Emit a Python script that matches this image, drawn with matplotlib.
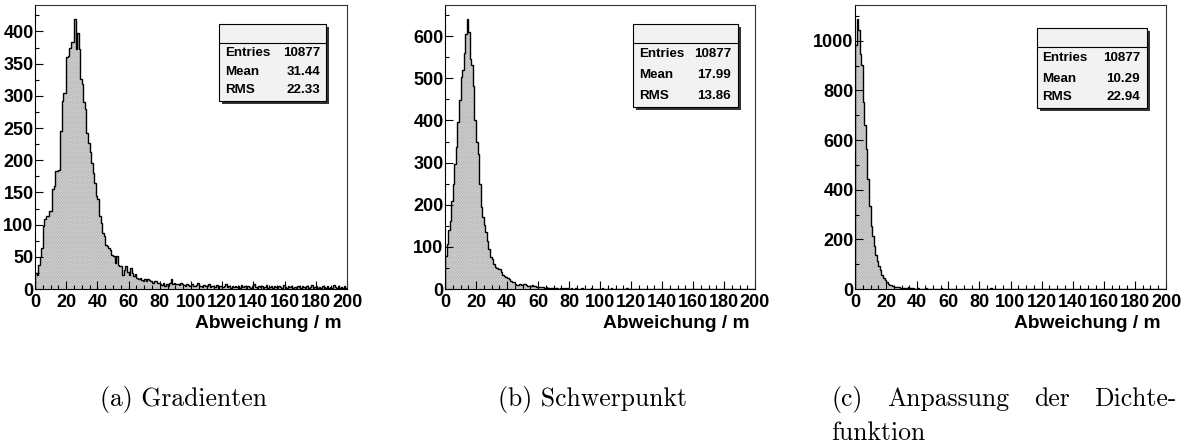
import matplotlib
matplotlib.use("Agg")
import matplotlib.pyplot as plt
from matplotlib.patches import Rectangle
import numpy as np

# ---------------- data ----------------
bin_edges = list(range(0, 201))

counts_gradienten = [25,22,38,50,64,98,108,113,113,121,
      121,155,160,183,183,185,245,292,305,305,
      360,362,375,383,383,420,372,398,372,326,
      318,290,279,243,227,212,195,180,165,144,
      139,113,103,87,82,68,66,64,61,53,
      52,40,52,38,35,35,22,30,35,27,
      22,33,25,20,24,17,15,17,14,13,
      16,12,15,14,12,10,13,12,9,10,
      8,6,9,5,7,4,10,15,8,9,
      7,8,6,9,7,6,5,8,6,5,
      7,4,5,6,9,4,5,3,6,4,
      5,7,3,4,5,3,6,2,4,5,
      3,4,8,3,5,2,4,3,5,3,
      4,2,6,3,4,2,5,3,2,4,
      7,3,2,4,3,5,2,3,6,2,
      3,4,2,5,3,2,4,3,2,6,
      3,2,4,3,5,2,3,2,4,3,
      2,5,3,2,4,2,3,6,2,3,
      4,2,3,2,5,3,2,4,2,3,
      2,6,3,2,4,2,3,2,5,2]

counts_schwerpunkt = [79,107,139,162,210,250,297,337,396,448,
      503,520,560,606,642,610,545,531,483,400,
      349,321,250,194,170,151,135,115,95,75,
      71,59,53,51,48,48,40,34,31,28,
      26,24,20,17,16,12,10,10,12,10,
      13,12,10,8,8,7,9,6,6,5,
      5,4,5,4,3,4,3,3,2,3,
      2,2,3,1,2,2,1,3,1,2,
      1,2,1,1,2,1,1,0,2,1,
      1,1,0,1,2,1,0,1,1,0,
      1,3,1,0,1,1,0,2,1,0,
      1,0,1,1,0,1,0,2,0,1,
      0,1,1,0,1,0,0,1,0,1,
      1,0,0,1,0,1,0,0,1,0,
      0,1,0,0,1,0,1,0,0,1,
      0,0,1,0,0,1,0,0,0,1,
      0,1,0,0,0,1,0,0,1,0,
      0,0,1,0,0,0,1,0,0,0,
      1,0,0,0,0,1,0,0,0,1,
      0,0,0,1,0,0,0,0,1,0]

counts_dichte = [982,1090,1043,949,901,753,659,564,443,335,
      254,213,173,139,112,92,76,58,45,38,
      27,22,18,15,13,10,9,8,7,6,
      5,4,6,4,8,4,3,3,2,2,
      3,2,2,1,2,3,1,2,2,1,
      2,1,2,2,1,3,2,1,2,1,
      2,2,1,1,2,1,2,1,1,2,
      1,2,1,2,1,1,2,1,2,1,
      1,2,1,1,2,1,1,3,1,1,
      2,1,1,2,1,1,2,1,1,1,
      2,1,1,2,1,1,1,2,1,1,
      1,2,1,1,1,2,1,1,2,1,
      1,1,2,1,1,1,2,1,1,1,
      2,1,1,1,2,1,1,2,1,1,
      1,2,1,1,1,1,2,1,1,2,
      1,1,1,2,1,1,1,1,2,1,
      1,2,1,1,1,1,2,1,1,1,
      2,1,1,1,1,2,1,1,1,1,
      2,1,1,1,2,1,1,1,1,2,
      1,1,1,2,1,1,1,1,1,2]

stat_labels = ["Entries", "Mean", "RMS"]
stats_gradienten = ["10877", "31.44", "22.33"]
stats_schwerpunkt = ["10877", "17.99", "13.86"]
stats_dichte = ["10877", "10.29", "22.94"]

x_label = "Abweichung / m"
x_ticks = [0, 20, 40, 60, 80, 100, 120, 140, 160, 180, 200]
captions = ["(a) Gradienten", "(b) Schwerpunkt"]
caption_c_words = ["(c)", "Anpassung", "der", "Dichte-"]
caption_c_line2 = "funktion"

# ---------------- layout ----------------
W, H = 1185, 448
fig = plt.figure(figsize=(W / 100, H / 100), dpi=100)
fig.patch.set_facecolor("white")

def fx(px):
    return px / W

def fy(py):
    return 1 - py / H

bold_font = ["Liberation Sans", "DejaVu Sans"]

panels = [
    dict(counts=counts_gradienten, stats=stats_gradienten, left=35, right=347,
         ymaj=50, ymin=25, box=(219, 24, 326, 101, 43), tl=225, tr=320, rows=(53, 72, 90)),
    dict(counts=counts_schwerpunkt, stats=stats_schwerpunkt, left=445, right=755,
         ymaj=100, ymin=50, box=(633, 24, 738, 107, 43), tl=639, tr=731, rows=(54, 75, 96)),
    dict(counts=counts_dichte, stats=stats_dichte, left=855, right=1166,
         ymaj=200, ymin=100, box=(1037, 28, 1147, 108, 47), tl=1042, tr=1140, rows=(58, 79, 97)),
]

top, bottom = 5, 289

for p in panels:
    ax = fig.add_axes([fx(p["left"]), fy(bottom), (p["right"] - p["left"]) / W, (bottom - top) / H])
    vals = np.array(p["counts"], dtype=float)
    ax.stairs(vals, bin_edges, fill=True, facecolor="#f6f6f6", edgecolor="#a0a0a0",
              hatch="..........", linewidth=0)
    ax.stairs(vals, bin_edges, baseline=0, color="black", linewidth=1.0)
    ax.set_xlim(0, 200)
    ax.set_ylim(0, 1.05 * vals.max())
    ax.set_xticks(x_ticks)
    ax.set_xticks(np.arange(0, 201, 5), minor=True)
    ax.yaxis.set_major_locator(matplotlib.ticker.MultipleLocator(p["ymaj"]))
    ax.yaxis.set_minor_locator(matplotlib.ticker.MultipleLocator(p["ymin"]))
    ax.tick_params(which="both", direction="in", top=False, right=False, color="black")
    ax.tick_params(which="major", length=6, width=0.8)
    ax.tick_params(which="minor", length=3, width=0.8)
    ax.tick_params(axis="x", which="major", pad=3.5)
    ax.tick_params(axis="y", which="major", pad=1.0)
    for lab in ax.get_xticklabels() + ax.get_yticklabels():
        lab.set_fontfamily(bold_font)
        lab.set_fontweight("bold")
        lab.set_fontsize(13)
    for s in ax.spines.values():
        s.set_linewidth(0.8)
        s.set_color("#333333")
    ax.spines["left"].set_color("black")
    ax.spines["bottom"].set_color("black")

    # x axis label
    fig.text(fx(p["right"] - 5), fy(323), x_label, ha="right", va="center",
             fontfamily=bold_font, fontweight="bold", fontsize=13.8)

    # stats box
    x0, y0, x1, y1, yh = p["box"]
    shadow = Rectangle((fx(x0 + 3), fy(y1 + 3)), (x1 - x0) / W, (y1 - y0) / H,
                       transform=fig.transFigure, facecolor="#333333", edgecolor="none", zorder=5)
    fig.add_artist(shadow)
    box = Rectangle((fx(x0), fy(y1)), (x1 - x0) / W, (y1 - y0) / H,
                    transform=fig.transFigure, facecolor="#f2f2f2", edgecolor="black",
                    linewidth=0.8, zorder=6)
    fig.add_artist(box)
    fig.add_artist(matplotlib.lines.Line2D([fx(x0), fx(x1)], [fy(yh), fy(yh)],
                                           transform=fig.transFigure, color="black",
                                           linewidth=0.8, zorder=7))
    for lbl, val, ry in zip(stat_labels, p["stats"], p["rows"]):
        fig.text(fx(p["tl"]), fy(ry), lbl, ha="left", va="center", fontfamily=bold_font,
                 fontweight="bold", fontsize=9.6, zorder=8)
        fig.text(fx(p["tr"]), fy(ry), val, ha="right", va="center", fontfamily=bold_font,
                 fontweight="bold", fontsize=9.6, zorder=8)

# captions
cap_font = ["cmr10", "DejaVu Serif"]
cap_size = 18.5
fig.text(fx(100), fy(399), captions[0], ha="left", va="center", fontfamily=cap_font, fontsize=cap_size)
fig.text(fx(498), fy(399), captions[1], ha="left", va="center", fontfamily=cap_font, fontsize=cap_size)

# justified caption (c): first word at 831, last word ending at 1177
cx_left, cx_right = 831, 1177
renderer = fig.canvas.get_renderer()
word_texts = [fig.text(0, 0, w, fontfamily=cap_font, fontsize=cap_size) for w in caption_c_words]
widths = [t.get_window_extent(renderer=renderer).width for t in word_texts]
for t in word_texts:
    t.remove()
gap = (cx_right - cx_left - sum(widths)) / (len(caption_c_words) - 1)
xpos = cx_left
for w, wd in zip(caption_c_words, widths):
    fig.text(fx(xpos), fy(399), w, ha="left", va="center", fontfamily=cap_font, fontsize=cap_size)
    xpos += wd + gap
fig.text(fx(831), fy(433), caption_c_line2, ha="left", va="center", fontfamily=cap_font, fontsize=cap_size)

fig.savefig("out.png", dpi=100)
